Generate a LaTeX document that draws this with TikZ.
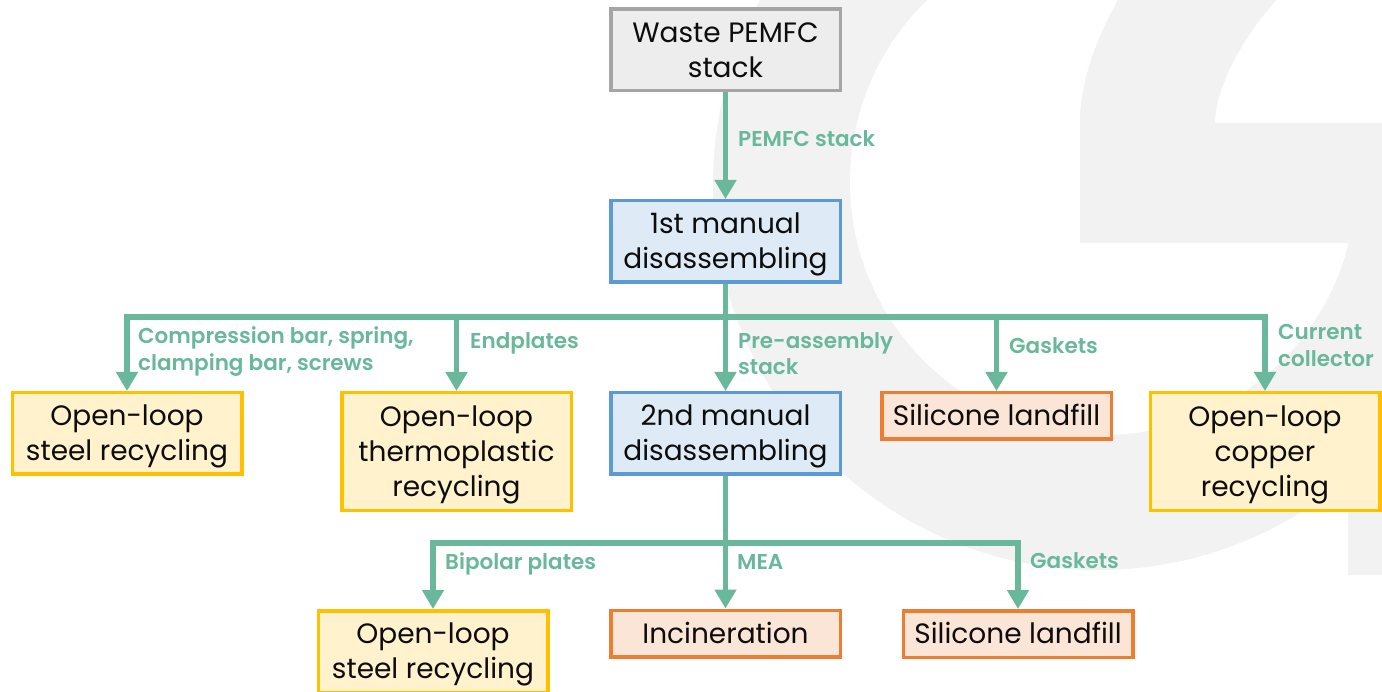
\documentclass[tikz,border=0pt]{standalone}
\usepackage{fontspec}
\setmainfont{Poppins}[BoldFont={Poppins SemiBold}]
\usetikzlibrary{arrows.meta}

\definecolor{flow}{HTML}{69B89C}
\definecolor{logogrey}{HTML}{F2F2F2}
\definecolor{greyfill}{HTML}{EDEDED}
\definecolor{greyline}{HTML}{A5A5A5}
\definecolor{bluefill}{HTML}{DEEBF7}
\definecolor{blueline}{HTML}{5B9BD5}
\definecolor{yelfill}{HTML}{FFF2CC}
\definecolor{yelline}{HTML}{FFC000}
\definecolor{orfill}{HTML}{FBE5D6}
\definecolor{orline}{HTML}{ED7D31}
\definecolor{ink}{HTML}{0D0D0D}

% fixed line box (27pt above, 7.5pt below the baseline) so every line
% of box text sits on the same pitch, centred on its cap height
\newcommand{\bst}{\rule[-7.5pt]{0pt}{34.5pt}}

\begin{document}
\begin{tikzpicture}[x=1pt,y=-1pt,
  box/.style={line width=3.5pt, minimum width=229.5pt, align=center,
    inner sep=0pt, text=ink, font=\fontsize{28}{35}\selectfont},
  onerow/.style={minimum height=46.5pt},
  tworow/.style={minimum height=81.5pt},
  threerow/.style={minimum height=117.5pt},
  source/.style={box, draw=greyline, fill=greyfill},
  process/.style={box, draw=blueline, fill=bluefill},
  recycle/.style={box, draw=yelline, fill=yelfill},
  dispose/.style={box, draw=orline, fill=orfill},
  trunk/.style={draw=flow, line width=5.5pt},
  feed/.style={trunk, -{Triangle[width=21pt,length=19pt]}},
  lbl/.style={text=flow, inner sep=0pt, align=left, anchor=base west,
    font=\bfseries\fontsize{21.5}{26.5}\selectfont}]

\useasboundingbox (0,0) rectangle (1382,692);
\fill[white] (0,0) rectangle (1382,692);

% faint logo watermark
\begin{scope}
  \clip (0,0) rectangle (1382,692);
  \fill[logogrey] (1098,185) circle[radius=385pt];
  \fill[white] (1103,182) circle[radius=253pt];
  \fill[white] (1278,-2) .. controls (1240,40) and (1215,90) .. (1215,123)
    -- (1390,123) -- (1390,-2) -- cycle;
  \fill[logogrey] (1119,-2) .. controls (1090,50) and (1080,90) .. (1080,123)
    -- (1080,243) -- (1390,243) -- (1390,123) -- (1215,123)
    .. controls (1215,90) and (1240,40) .. (1278,-2) -- cycle;
  \fill[logogrey] (1348,243) rectangle (1390,575);
\end{scope}

% boxes
\node[source, tworow]    (waste)  at (725.5,50)    {\bst Waste PEMFC\\\bst stack};
\node[process, tworow]   (first)  at (725.5,241.5) {\bst 1st manual\\\bst disassembling};
\node[process, tworow]   (second) at (725.5,433.5) {\bst 2nd manual\\\bst disassembling};
\node[recycle, tworow]   (steelA) at (127,433.5)   {\bst Open-loop\\\bst steel recycling};
\node[recycle, threerow] (thermo) at (456.5,451.5) {\bst Open-loop\\\bst thermoplastic\\\bst recycling};
\node[dispose, onerow]   (silA)   at (996.5,416)   {\bst Silicone landfill};
\node[recycle, threerow] (copper) at (1265,451.5)  {\bst Open-loop\\\bst copper\\\bst recycling};
\node[recycle, tworow]   (steelB) at (433,651.5)   {\bst Open-loop\\\bst steel recycling};
\node[dispose, onerow]   (incin)  at (725.5,633.5) {\bst Incineration};
\node[dispose, onerow]   (silB)   at (1018,634)    {\bst Silicone landfill};

% distribution buses
\coordinate (busA) at (725.5,317);
\coordinate (busB) at (725.5,543);

% connectors
\draw[feed] (waste.south) -- (first.north);
\draw[trunk] (first.south) -- (busA);
\draw[feed] (busA) -| (steelA.north);
\draw[feed] (busA) -| (thermo.north);
\draw[feed] (busA) -- (second.north);
\draw[feed] (busA) -| (silA.north);
\draw[feed] (busA) -| (copper.north);
\draw[trunk] (second.south) -- (busB);
\draw[feed] (busB) -| (steelB.north);
\draw[feed] (busB) -- (incin.north);
\draw[feed] (busB) -| (silB.north);

% flow labels (base = baseline of the last line)
\node[lbl] (lstack)  at (738,147)   {PEMFC stack};
\node[lbl] (lsteel)  at (138,370.5) {Compression bar, spring,\\clamping bar, screws};
\node[lbl] (lend)    at (470,349)   {Endplates};
\node[lbl] (lpre)    at (738,375)   {Pre-assembly\\stack};
\node[lbl] (lgasA)   at (1009,354)  {Gaskets};
\node[lbl] (lcur)    at (1278,366.5){Current\\collector};
\node[lbl] (lbip)    at (445,569)   {Bipolar plates};
\node[lbl] (lmea)    at (737,569)   {MEA};
\node[lbl] (lgasB)   at (1030,568)  {Gaskets};

\end{tikzpicture}
\end{document}
